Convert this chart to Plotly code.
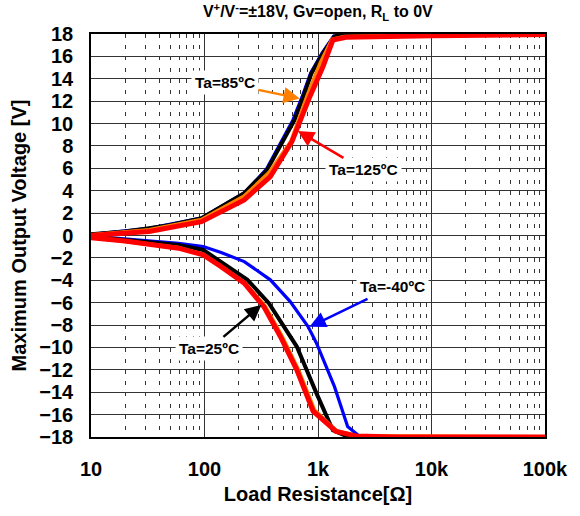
import plotly.graph_objects as go
import math

# ---------------- data ----------------
x_tick_vals = [10, 100, 1000, 10000, 100000]
x_tick_text = ["10", "100", "1k", "10k", "100k"]
y_tick_vals = list(range(-18, 19, 2))

# Ta = -40 C (blue)
r_m40_pos = [10, 32.5, 94, 224, 350, 485, 600, 725, 860, 1085, 1370, 3000, 100000]
v_m40_pos = [0.1, 0.65, 1.56, 3.8, 5.9, 8.5, 10.3, 12.4, 14.5, 16.3, 17.8, 17.95, 18.0]
r_m40_neg = [10, 20, 59, 97.5, 140, 224, 380, 569, 817, 968, 1397, 1824, 2300, 5000, 100000]
v_m40_neg = [-0.05, -0.3, -0.69, -0.99, -1.52, -2.33, -3.96, -5.9, -8.13, -9.6, -13.5, -17.06, -17.9, -18.0, -18.0]

# Ta = 25 C (black)
r_25_pos = [10, 20, 32.5, 50, 94, 224, 356, 497, 620, 743, 877, 1107, 1397, 1600, 3000, 10000, 100000]
v_25_pos = [0.1, 0.35, 0.65, 0.95, 1.54, 3.78, 5.86, 8.5, 10.3, 12.4, 14.5, 16.3, 17.8, 17.9, 17.95, 18.0, 18.0]
r_25_neg = [10, 20, 59, 97.5, 140, 239, 369, 530, 650, 968, 1352, 1762, 3000, 100000]
v_25_neg = [-0.1, -0.4, -0.84, -1.29, -2.33, -3.96, -6.04, -8.43, -9.92, -14.08, -17.4, -17.9, -18.0, -18.0]

# Ta = 85 C (orange)
r_85_pos = [10, 32.5, 94, 224, 370, 580, 800, 1050, 1330, 1700, 10000, 100000]
v_85_pos = [0.05, 0.5, 1.4, 3.5, 5.6, 8.4, 12.4, 15.4, 17.5, 17.75, 17.9, 18.0]
r_85_neg = [10, 59, 97.5, 140, 224, 340, 480, 670, 930, 1450, 2154, 100000]
v_85_neg = [-0.15, -1.1, -1.7, -2.75, -4.2, -6.3, -9.0, -12.0, -15.6, -17.45, -17.9, -18.0]

# Ta = 125 C (red)
r_125_pos = [10, 32.5, 94, 224, 380, 590, 847, 1107, 1352, 1762, 10000, 100000]
v_125_pos = [0.0, 0.35, 1.24, 3.18, 5.26, 8.4, 12.4, 15.1, 17.46, 17.7, 17.85, 17.95]
r_125_neg = [10, 20, 59, 97.5, 140, 224, 333, 466, 650, 906, 1445, 2154, 5000, 100000]
v_125_neg = [-0.2, -0.5, -1.13, -1.73, -2.78, -4.26, -6.35, -9.02, -12.0, -15.7, -17.5, -17.9, -18.0, -18.0]

series = [
    ("Ta=-40ºC", "#0000FF", 3.2, r_m40_pos, v_m40_pos, r_m40_neg, v_m40_neg),
    ("Ta=25ºC", "#000000", 4.0, r_25_pos, v_25_pos, r_25_neg, v_25_neg),
    ("Ta=85ºC", "#FF8000", 4.0, r_85_pos, v_85_pos, r_85_neg, v_85_neg),
    ("Ta=125ºC", "#FF0000", 5.0, r_125_pos, v_125_pos, r_125_neg, v_125_neg),
]

# label text position (R, V) and arrow tip (R, V)
labels = [
    ("Ta=85ºC", "#FF8000", 151, 13.63, 690, 12.24),
    ("Ta=125ºC", "#FF0000", 2530, 5.86, 664, 9.34),
    ("Ta=25ºC", "#000000", 110, -10.13, 317, -6.2),
    ("Ta=-40ºC", "#0000FF", 4520, -4.59, 843, -8.16),
]

FONT = "Liberation Sans, Arial, sans-serif"

fig = go.Figure()
for name, color, width, rp, vp, rn, vn in series:
    fig.add_trace(go.Scatter(
        x=rp + [None] + rn, y=vp + [None] + vn, mode="lines", name=name,
        line=dict(color=color, width=width), showlegend=False,
    ))

for text, color, lx, ly, tx, ty in labels:
    fig.add_annotation(
        x=math.log10(tx), y=ty, xref="x", yref="y",
        ax=math.log10(lx), ay=ly, axref="x", ayref="y",
        text=text, showarrow=True, arrowcolor=color, arrowwidth=2.5,
        arrowhead=2, arrowsize=1.3, bgcolor="white", borderpad=3,
        font=dict(family=FONT, size=15.5, color="black", weight="bold"),
    )

fig.update_layout(
    width=580, height=516,
    margin=dict(l=91, r=28, t=34, b=79),
    paper_bgcolor="white", plot_bgcolor="white",
    title=dict(
        text="V<sup>+</sup>/V<sup>-</sup>=±18V, Gv=open, R<sub>L</sub> to 0V",
        x=0.548, xanchor="center", y=0.988, yanchor="top",
        font=dict(family=FONT, size=16, color="black", weight="bold"),
    ),
    font=dict(family=FONT, color="black"),
)

fig.update_xaxes(
    type="log", range=[1, 5],
    tickvals=x_tick_vals, ticktext=x_tick_text,
    tickfont=dict(family=FONT, size=20, color="black", weight="bold"),
    ticklabelstandoff=13,
    showgrid=True, gridcolor="#333333", gridwidth=1,
    minor=dict(dtick="D1", showgrid=True, gridcolor="#333333", gridwidth=1, griddash="4px,7.2px"),
    showline=True, linecolor="black", linewidth=1.5, mirror=True,
    ticks="", zeroline=False,
    title=dict(text="Load Resistance[Ω]", standoff=8,
               font=dict(family=FONT, size=20, color="black", weight="bold")),
)
fig.update_yaxes(
    range=[-18, 18], tickvals=y_tick_vals,
    tickfont=dict(family=FONT, size=20, color="black", weight="bold"),
    ticklabelstandoff=12,
    showgrid=True, gridcolor="#333333", gridwidth=1,
    showline=True, linecolor="black", linewidth=1.5, mirror=True,
    ticks="", zeroline=False,
    title=dict(text="Maximum Output Voltage [V]", standoff=7,
               font=dict(family=FONT, size=20, color="black", weight="bold")),
)

fig.write_html("out.html")
